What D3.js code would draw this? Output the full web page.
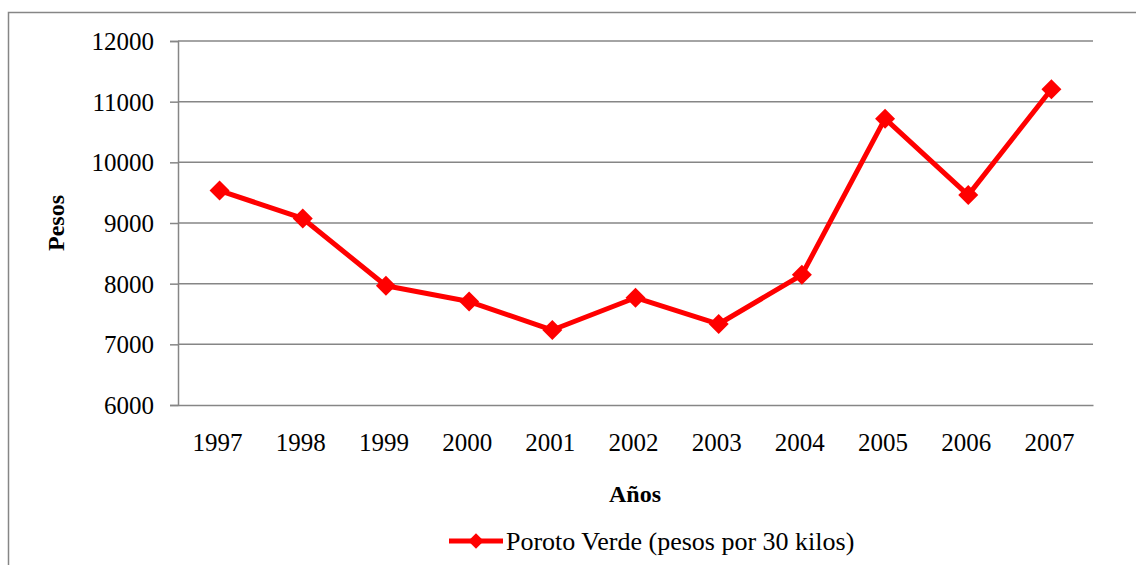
<!DOCTYPE html>
<html>
<head>
<meta charset="utf-8">
<script src="https://cdn.jsdelivr.net/npm/d3@7"></script>
<style>
  html, body { margin: 0; padding: 0; background: #fff; }
  svg { display: block; }
</style>
</head>
<body>
<svg id="chart" width="1136" height="565"></svg>
<script>
const years = ["1997","1998","1999","2000","2001","2002","2003","2004","2005","2006","2007"];
const values = [9535, 9075, 7965, 7705, 7236, 7768, 7335, 8145, 10720, 9460, 11205];
const yTicks = [6000, 7000, 8000, 9000, 10000, 11000, 12000];
const seriesName = "Poroto Verde (pesos por 30 kilos)";
const xTitle = "Años";
const yTitle = "Pesos";

const FONT = "'Liberation Serif', 'Times New Roman', Times, 'DejaVu Serif', serif";
const svg = d3.select("#chart");
const W = 1136, H = 565;
const plot = { left: 178, right: 1093, top: 41, bottom: 405 };
const gridColor = "#868686";
const red = "#ff0000";

// outer frame
svg.append("path")
  .attr("d", `M8.5,${H + 5} L8.5,12.5 L${W + 5},12.5`)
  .attr("fill", "none").attr("stroke", gridColor).attr("stroke-width", 1.5);

const x = d3.scaleBand().domain(years).range([plot.left, plot.right]);
const y = d3.scaleLinear().domain([6000, 12000]).range([plot.bottom, plot.top]);

// gridlines
svg.append("g").selectAll("line").data(yTicks.filter(d => d > 6000)).join("line")
  .attr("x1", plot.left).attr("x2", plot.right)
  .attr("y1", d => y(d)).attr("y2", d => y(d))
  .attr("stroke", gridColor).attr("stroke-width", 1.5);

// y axis
const yAxis = svg.append("g").attr("transform", `translate(${plot.left},0)`)
  .call(d3.axisLeft(y).tickValues(yTicks).tickSize(8).tickPadding(16).tickFormat(d3.format("d")));
yAxis.attr("font-family", null).attr("font-size", null);
yAxis.select(".domain").attr("stroke", gridColor).attr("stroke-width", 1.5);
yAxis.selectAll(".tick line").attr("stroke", gridColor).attr("stroke-width", 1.5);
yAxis.selectAll(".tick text").style("font-family", FONT).style("font-size", "25px").attr("fill", "#000").attr("dy", "0.34em");

// x axis
const xAxis = svg.append("g").attr("transform", `translate(0,${plot.bottom})`)
  .call(d3.axisBottom(x).tickSize(0).tickPadding(28));
xAxis.attr("font-family", null).attr("font-size", null);
xAxis.select(".domain").attr("stroke", gridColor).attr("stroke-width", 1.5);
xAxis.selectAll(".tick text").style("font-family", FONT).style("font-size", "25px").attr("fill", "#000").attr("dx", "-2");

// axis titles
svg.append("text").attr("x", 635).attr("y", 502).attr("text-anchor", "middle")
  .style("font-family", FONT).style("font-size", "24px").style("font-weight", "bold").text(xTitle);
svg.append("text").attr("transform", `translate(64,223) rotate(-90)`).attr("text-anchor", "middle")
  .style("font-family", FONT).style("font-size", "24px").style("font-weight", "bold").text(yTitle);

// line
const cx = d => x(d) + x.bandwidth() / 2;
const line = d3.line().x((d, i) => cx(years[i])).y(d => y(d));
svg.append("path").datum(values).attr("d", line)
  .attr("fill", "none").attr("stroke", red).attr("stroke-width", 5).attr("stroke-linejoin", "round");

const diamond = d3.symbol().type(d3.symbolSquare).size(200);
svg.append("g").selectAll("path").data(values).join("path")
  .attr("d", diamond)
  .attr("transform", (d, i) => `translate(${cx(years[i])},${y(d)}) rotate(45)`)
  .attr("fill", red);

// legend
const lg = svg.append("g");
lg.append("line").attr("x1", 449).attr("x2", 503).attr("y1", 541).attr("y2", 541)
  .attr("stroke", red).attr("stroke-width", 5);
lg.append("path").attr("d", d3.symbol().type(d3.symbolSquare).size(120))
  .attr("transform", "translate(476,541) rotate(45)").attr("fill", red);
lg.append("text").attr("x", 506).attr("y", 541).attr("dy", "0.34em")
  .style("font-family", FONT).style("font-size", "26px").text(seriesName);
</script>
</body>
</html>
